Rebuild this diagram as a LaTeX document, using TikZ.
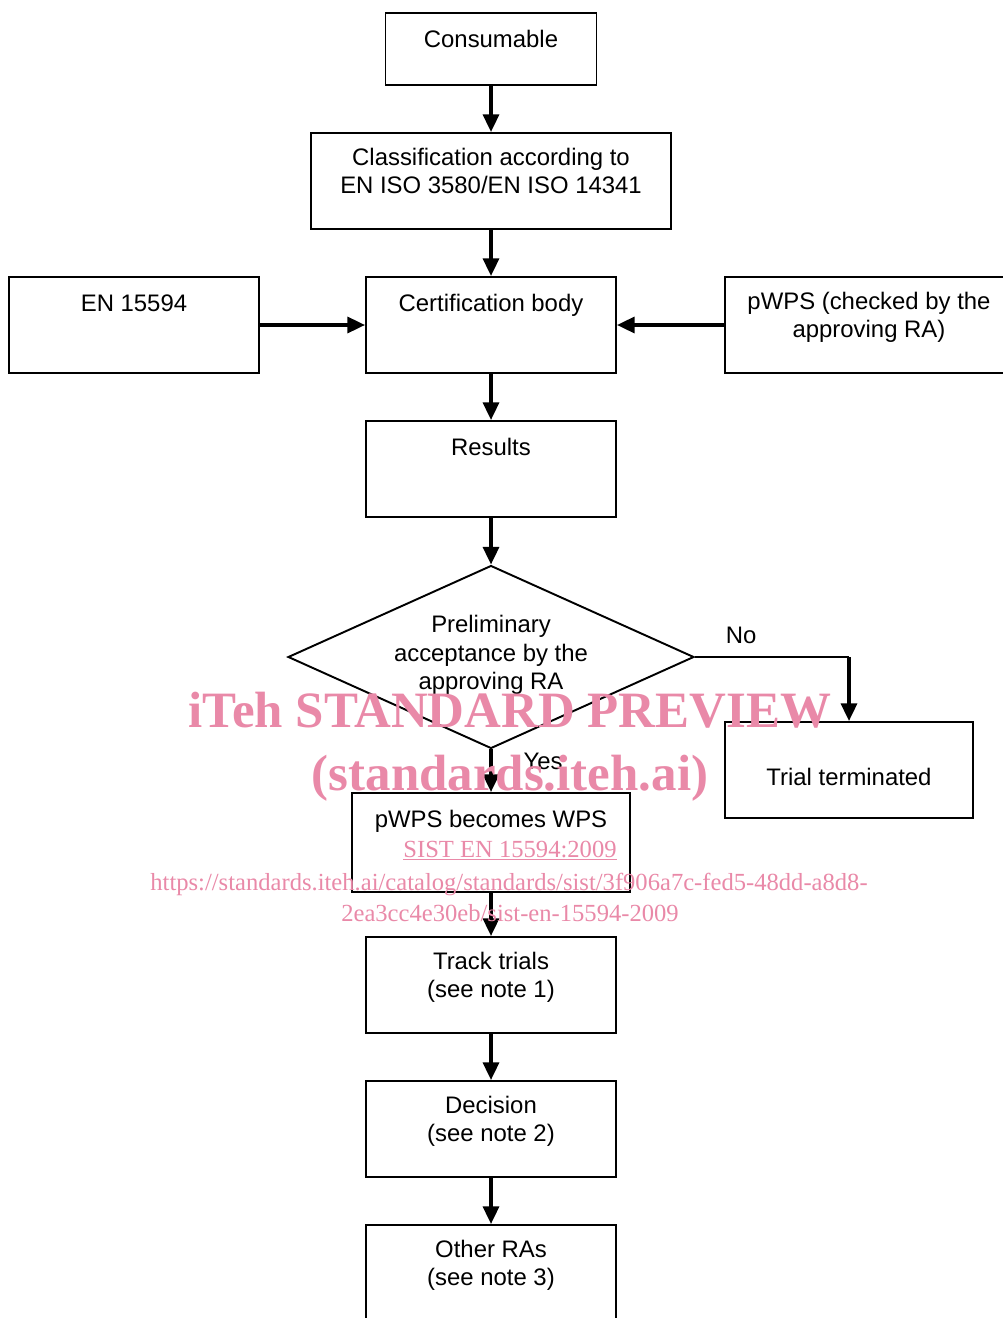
\documentclass[tikz,border=0pt]{standalone}
\usepackage{fontspec}
\setmainfont{Liberation Sans}
\newfontfamily\wmfont{Liberation Serif}
\usetikzlibrary{arrows.meta,shapes.geometric}
\definecolor{wmpink}{RGB}{233,137,168}
\newcommand{\bodyfont}{\fontsize{13.6}{16.2}\selectfont}

\tikzset{
  box/.style={draw, line width=1.1pt, minimum width=5cm, minimum height=1.92cm, inner sep=0pt},
  boxtext/.style={anchor=north, align=center, inner sep=0pt, yshift=-8.8pt, font=\bodyfont, execute at begin node=\strut},
  flow/.style={line width=2pt, -{Triangle[length=10pt,width=9pt]}},
  wmbig/.style={text=wmpink, font=\fontsize{29}{35}\selectfont\wmfont\bfseries, anchor=base, inner sep=0pt},
  wmsmall/.style={text=wmpink, font=\fontsize{14}{17.6}\selectfont\wmfont, anchor=base, inner sep=0pt}
}

\begin{document}
\begin{tikzpicture}[x=0.02cm, y=-0.02cm, font=\bodyfont]
\useasboundingbox (0,0) rectangle (1003,1318);
\clip (0,0) rectangle (1003,1318);

% boxes
\node[box, minimum width=4.22cm, minimum height=1.44cm, label={[boxtext]north:Consumable}] (cons) at (491,49) {};
\node[box, minimum width=7.2cm, label={[boxtext]north:{Classification according to\\EN ISO 3580/EN ISO 14341}}] (class) at (491,181) {};
\node[box, label={[boxtext]north:EN 15594}] (en) at (134,325) {};
\node[box, label={[boxtext]north:Certification body}] (cert) at (491,325) {};
\node[box, minimum width=5.76cm, label={[boxtext]north:{pWPS (checked by the\\approving RA)}}] (pwps) at (869,325) {};
\node[box, label={[boxtext]north:Results}] (res) at (491,469) {};
\node[draw, diamond, aspect=2.22, line width=1.1pt, minimum width=8.12cm, minimum height=3.66cm, inner sep=0pt] (prelim) at (491,657) {};
\node[align=center, inner sep=0pt] (prelimtext) at (491,655) {Preliminary\\acceptance by the\\approving RA};
\node[box, minimum width=4.96cm, label={[font=\bodyfont, inner sep=0pt, yshift=-4pt]center:Trial terminated}] (term) at (849,770) {};
\node[box, minimum width=5.56cm, minimum height=1.98cm, label={[boxtext]north:pWPS becomes WPS}] (wps) at (491,842.5) {};
\node[box, label={[boxtext]north:{Track trials\\(see note 1)}}] (track) at (491,985) {};
\node[box, label={[boxtext]north:{Decision\\(see note 2)}}] (dec) at (491,1129) {};
\node[box, label={[boxtext]north:{Other RAs\\(see note 3)}}] (other) at (491,1273) {};

% connectors
\draw[flow] (cons.south) -- (class.north);
\draw[flow] (class.south) -- (cert.north);
\draw[flow] (en.east) -- (cert.west);
\draw[flow] (pwps.west) -- (cert.east);
\draw[flow] (cert.south) -- (res.north);
\draw[flow] (res.south) -- (prelim.north);
\draw[line width=1.1pt] (prelim.east) -- node[above, pos=0.3, yshift=3.4pt] (no) {No} (prelim.east -| term.north);
\draw[flow] (prelim.east -| term.north) -- (term.north);
\draw[flow] (prelim.south) -- node[pos=0.29, xshift=29.6pt] (yes) {Yes} (wps.north);
\draw[flow] (wps.south) -- (track.north);
\draw[flow] (track.south) -- (dec.north);
\draw[flow] (dec.south) -- (other.north);

% watermark
\node[wmbig] (wmtitle) at (510,727) {iTeh STANDARD PREVIEW};
\node[wmbig] (wmsite) at (510,790) {(standards.iteh.ai)};
\node[wmsmall] (wmstd) at (510,857) {\underline{SIST EN 15594:2009}};
\node[wmsmall] (wmurl) at (509,890) {https://standards.iteh.ai/catalog/standards/sist/3f906a7c-fed5-48dd-a8d8-};
\node[wmsmall] (wmurlb) at (510,921) {2ea3cc4e30eb/sist-en-15594-2009};
\end{tikzpicture}
\end{document}
